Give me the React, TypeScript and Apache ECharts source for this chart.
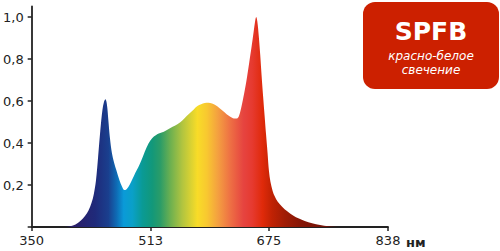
import React, { useEffect, useRef } from "react";
import * as echarts from "echarts";

// Spectrum: wavelength (nm) and relative intensity
const wavelengths = [
  350, 395, 403, 410, 417, 423, 428, 432, 435, 438, 441, 444, 447, 449, 451, 453, 455, 457, 460, 463,
  466, 470, 474, 477, 480, 484, 488, 492, 496, 500, 505, 510, 515, 520, 525, 531, 537, 543, 549, 554,
  560, 566, 572, 577, 582, 587, 592, 597, 602, 607, 612, 617, 622, 627, 631, 634, 638, 642, 645, 648,
  651, 654, 656, 657.5, 659, 661, 663, 665, 667, 669, 671, 673, 675, 677, 680, 683, 687, 693, 700, 708,
  716, 724, 734, 745, 756, 770, 838,
];
const intensity = [
  0, 0, 0.004, 0.012, 0.03, 0.052, 0.08, 0.115, 0.155, 0.22, 0.335, 0.46, 0.56, 0.595, 0.608, 0.585, 0.51, 0.43, 0.35, 0.305,
  0.27, 0.225, 0.19, 0.176, 0.18, 0.2, 0.228, 0.258, 0.285, 0.315, 0.36, 0.398, 0.423, 0.437, 0.446, 0.454, 0.465, 0.477, 0.488, 0.5,
  0.52, 0.54, 0.56, 0.576, 0.585, 0.591, 0.592, 0.588, 0.58, 0.567, 0.552, 0.537, 0.525, 0.517, 0.517, 0.53, 0.585, 0.655, 0.716, 0.785,
  0.855, 0.93, 0.98, 1.0, 0.98, 0.91, 0.82, 0.716, 0.62, 0.53, 0.44, 0.355, 0.265, 0.215, 0.172, 0.145, 0.12, 0.097, 0.075, 0.055,
  0.04, 0.028, 0.018, 0.009, 0.003, 0, 0,
];

const xTicks = [350, 513, 675, 838];
const yTicks = [0, 0.2, 0.4, 0.6, 0.8, 1.0];
const yLabelValues = [0.2, 0.4, 0.6, 0.8, 1.0];

// Spectral colour stops (nm -> colour)
const colorNm = [350, 410, 437, 455, 466, 476, 488, 502, 515, 526, 540, 556, 577, 590, 605, 622, 640, 652, 666, 679, 697, 718, 759, 838];
const colorHex = [
  "#2a1f6a", "#2a1f6a", "#1f2a7a", "#1a3f8e", "#0f6ab4", "#0a9ad8", "#0aa0c8", "#0a9a94", "#12987a", "#2a9c68",
  "#6cb050", "#b0c440", "#f8dc28", "#f8c830", "#f4a040", "#ee7044", "#e64440", "#e63a30", "#e02a0a", "#c02204",
  "#a01c05", "#861606", "#701208", "#701208",
];

const xName = "нм";
const badgeTitle = "SPFB";
const badgeLine1 = "красно-белое";
const badgeLine2 = "свечение";

export default function App() {
  const ref = useRef<HTMLDivElement>(null);
  useEffect(() => {
    if (!ref.current) return;
    const chart = echarts.init(ref.current, null, { renderer: "svg" });
    const xMin = xTicks[0];
    const xMax = xTicks[xTicks.length - 1];
    const stops = colorNm.map((nm, i) => ({ offset: (nm - xMin) / (xMax - xMin), color: colorHex[i] }));
    const axisColor = "#222";
    const font = "DejaVu Sans";
    chart.setOption({
      animation: false,
      grid: { left: 31, right: 112, top: 6.5, bottom: 24 },
      xAxis: {
        type: "value",
        min: xMin,
        max: xMax,
        axisLine: { show: true, lineStyle: { color: axisColor, width: 1.8 } },
        axisTick: { show: true, customValues: xTicks, length: 4, lineStyle: { color: axisColor, width: 1.5 } },
        axisLabel: {
          customValues: xTicks,
          margin: 7,
          color: "#222",
          fontFamily: font,
          fontSize: 13,
          formatter: (v: number) => String(Math.round(v)),
        },
        splitLine: { show: false },
      },
      yAxis: {
        type: "value",
        min: 0,
        max: 1.05,
        axisLine: { show: true, lineStyle: { color: axisColor, width: 1.8 } },
        axisTick: { show: true, customValues: yTicks, length: 4, lineStyle: { color: axisColor, width: 1.5 } },
        axisLabel: {
          customValues: yLabelValues,
          margin: 8,
          color: "#222",
          fontFamily: font,
          fontSize: 13,
          formatter: (v: number) => v.toFixed(1).replace(".", ","),
        },
        splitLine: { show: false },
      },
      series: [
        {
          type: "line",
          data: wavelengths.map((w, i) => [w, intensity[i]]),
          smooth: 0.35,
          showSymbol: false,
          symbol: "none",
          lineStyle: { width: 0, opacity: 0 },
          areaStyle: {
            opacity: 1,
            color: new echarts.graphic.LinearGradient(0, 0, 1, 0, stops),
          },
          z: 1,
        },
      ],
      graphic: [
        {
          type: "text",
          left: 406,
          top: 236,
          style: { text: xName, fill: "#222", font: `bold 13px ${font}` },
        },
        {
          type: "rect",
          shape: { x: 363, y: 2, width: 136, height: 87, r: 12 },
          style: { fill: "#cc2000" },
        },
        {
          type: "text",
          x: 431,
          y: 31,
          style: {
            text: badgeTitle,
            fill: "#fff",
            font: `bold 25px ${font}`,
            align: "center",
            verticalAlign: "middle",
          },
        },
        {
          type: "text",
          x: 431,
          y: 56,
          style: {
            text: badgeLine1,
            fill: "#fff",
            font: `italic 12px ${font}`,
            align: "center",
            verticalAlign: "middle",
          },
        },
        {
          type: "text",
          x: 431,
          y: 69.5,
          style: {
            text: badgeLine2,
            fill: "#fff",
            font: `italic 12px ${font}`,
            align: "center",
            verticalAlign: "middle",
          },
        },
      ],
    });
    return () => chart.dispose();
  }, []);
  return (
    <div
      ref={ref}
      style={{ position: "absolute", left: 0, top: 0, width: 500, height: 251 }}
    />
  );
}
